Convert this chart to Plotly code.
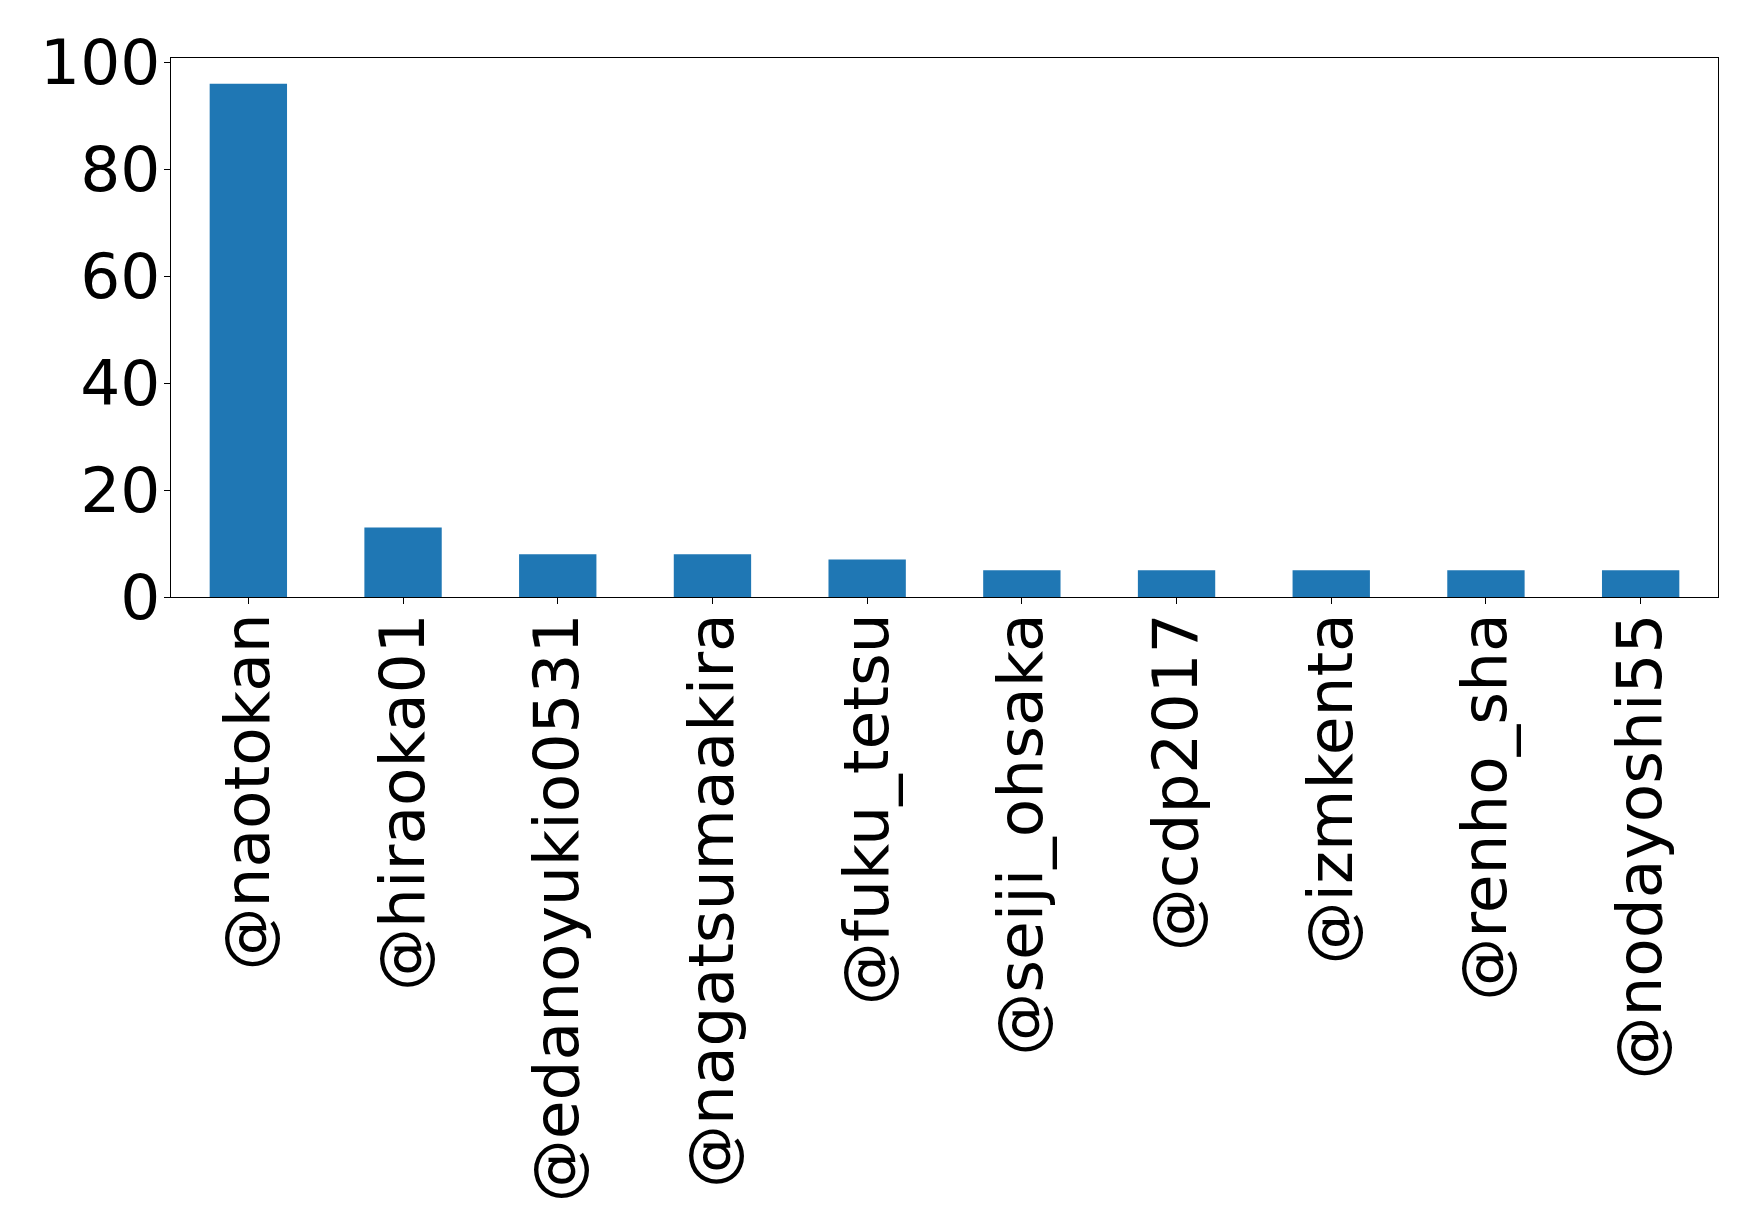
import plotly.graph_objects as go

# Données
comptes = ['@naotokan', '@hiraoka01', '@edanoyukio0531', '@nagatsumaakira',
           '@fuku_tetsu', '@seiji_ohsaka', '@cdp2017', '@izmkenta',
           '@renho_sha', '@nodayoshi55']
nombres = [96, 13, 8, 8, 7, 5, 5, 5, 5, 5]
y_ticks = [0, 20, 40, 60, 80, 100]

fig = go.Figure(
    data=[go.Bar(x=comptes, y=nombres, width=0.5, marker={'color': '#1f77b4', 'line': {'width': 0}})]
)

axis_common = {
    'showline': True, 'linecolor': 'black', 'linewidth': 1.2, 'mirror': True,
    'ticks': 'outside', 'ticklen': 6, 'tickcolor': 'black', 'tickwidth': 1.2,
    'showgrid': False, 'zeroline': False, 'automargin': False,
}

fig.update_layout(
    width=1758, height=1231,
    margin={'l': 163, 'r': 48, 't': 50, 'b': 642},
    plot_bgcolor='white', paper_bgcolor='white',
    font={'family': 'DejaVu Sans', 'size': 63, 'color': 'black'},
    showlegend=False,
    xaxis={**axis_common, 'range': [-0.5, 9.5], 'tickangle': -90, 'ticklabelstandoff': -16},
    yaxis={**axis_common, 'range': [0, 100.8], 'tickvals': y_ticks, 'ticklabelstandoff': -9},
)

fig.write_html("out.html")
